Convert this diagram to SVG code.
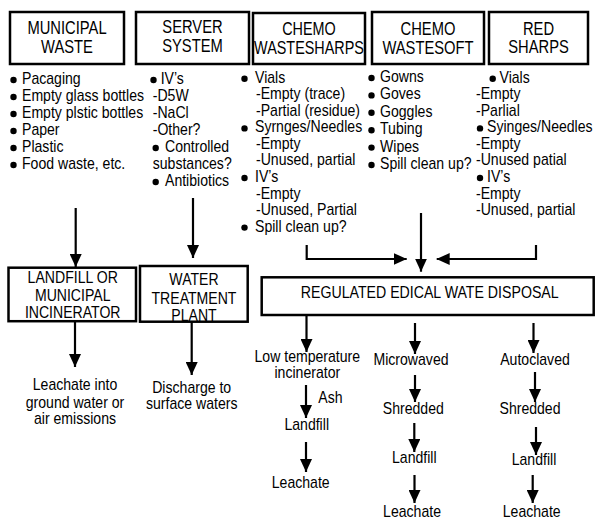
<svg xmlns="http://www.w3.org/2000/svg" width="596" height="520" viewBox="0 0 596 520">
<style>
text{font-family:"Liberation Sans",Arial,sans-serif;fill:#000}
.h{font-size:18px;text-anchor:middle}
.b{font-size:16px}
.c{font-size:16px;text-anchor:middle}
.box{fill:#fff;stroke:#000;stroke-width:2.5}
.ln{fill:none;stroke:#000;stroke-width:2.2}
.dot{fill:#000}
</style>
<defs>
<marker id="ah" viewBox="0 0 13 12" refX="13" refY="6" markerWidth="13" markerHeight="12" markerUnits="userSpaceOnUse" orient="auto">
<path d="M0,0 L13,6 L0,12 z" fill="#000"/>
</marker>
</defs>
<rect width="596" height="520" fill="#fff"/>

<g id="connectors" class="ln" marker-end="url(#ah)">
<path d="M75.7,208 V267"/>
<path d="M193,198 V258"/>
<path d="M306.7,245 V259 H406.7"/>
<path d="M421,213 V271.7"/>
<path d="M536,245 V259 H436.7"/>
<path d="M75,321 V367"/>
<path d="M191.7,322 V375"/>
<path d="M306.5,315 V352"/>
<path d="M415,323 V354"/>
<path d="M533.5,323 V353"/>
<path d="M306,385 V418"/>
<path d="M415,375 V402"/>
<path d="M535,372 V402"/>
<path d="M414.3,423 V452"/>
<path d="M536,427 V455"/>
<path d="M306,442 V472"/>
<path d="M414.5,475 V503"/>
<path d="M532.7,475 V503"/>
</g>

<g id="municipal-waste">
<rect class="box" x="10" y="12" width="114" height="52"/>
<text class="h" transform="translate(67 34) scale(.82 1)">MUNICIPAL</text>
<text class="h" transform="translate(67 53) scale(.82 1)">WASTE</text>
<g class="dot"><circle cx="13.5" cy="80" r="3.2"/><circle cx="13.5" cy="97" r="3.2"/><circle cx="13.5" cy="114" r="3.2"/><circle cx="13.5" cy="131" r="3.2"/><circle cx="13.5" cy="148" r="3.2"/><circle cx="13.5" cy="165" r="3.2"/></g>
<text class="b" transform="translate(22 84) scale(.88 1)">Pacaging</text>
<text class="b" transform="translate(22 101) scale(.88 1)">Empty glass bottles</text>
<text class="b" transform="translate(22 118) scale(.88 1)">Empty plstic bottles</text>
<text class="b" transform="translate(22 135) scale(.88 1)">Paper</text>
<text class="b" transform="translate(22 152) scale(.88 1)">Plastic</text>
<text class="b" transform="translate(22 169) scale(.88 1)">Food waste, etc.</text>
</g>

<g id="server-system">
<rect class="box" x="136" y="12" width="113" height="52"/>
<text class="h" transform="translate(192.5 33) scale(.82 1)">SERVER</text>
<text class="h" transform="translate(192.5 52) scale(.82 1)">SYSTEM</text>
<g class="dot"><circle cx="153.5" cy="80" r="3.2"/><circle cx="155.7" cy="148" r="3.2"/><circle cx="155.7" cy="182" r="3.2"/></g>
<text class="b" transform="translate(160.7 84) scale(.88 1)">IV’s</text>
<text class="b" transform="translate(152.7 101) scale(.88 1)">-D5W</text>
<text class="b" transform="translate(152.7 118) scale(.88 1)">-NaCl</text>
<text class="b" transform="translate(152.7 135) scale(.88 1)">-Other?</text>
<text class="b" transform="translate(165 152) scale(.88 1)">Controlled</text>
<text class="b" transform="translate(152.7 169) scale(.88 1)">substances?</text>
<text class="b" transform="translate(165 186) scale(.88 1)">Antibiotics</text>
</g>

<g id="chemo-wastesharps">
<rect class="box" x="253" y="13" width="112" height="51"/>
<text class="h" transform="translate(309 35) scale(.8 1)">CHEMO</text>
<text class="h" transform="translate(309 54) scale(.8 1)">WASTESHARPS</text>
<g class="dot"><circle cx="244.5" cy="78.7" r="3.2"/><circle cx="244.5" cy="128.4" r="3.2"/><circle cx="244.5" cy="178" r="3.2"/><circle cx="244.5" cy="227.6" r="3.2"/></g>
<text class="b" transform="translate(255 82.7) scale(.88 1)">Vials</text>
<text class="b" transform="translate(256 99.25) scale(.88 1)">-Empty (trace)</text>
<text class="b" transform="translate(256 115.8) scale(.88 1)">-Partial (residue)</text>
<text class="b" transform="translate(255 132.35) scale(.88 1)">Syrnges/Needles</text>
<text class="b" transform="translate(256 148.9) scale(.88 1)">-Empty</text>
<text class="b" transform="translate(256 165.45) scale(.88 1)">-Unused, partial</text>
<text class="b" transform="translate(255 182) scale(.88 1)">IV’s</text>
<text class="b" transform="translate(256 198.55) scale(.88 1)">-Empty</text>
<text class="b" transform="translate(256 215.1) scale(.88 1)">-Unused, Partial</text>
<text class="b" transform="translate(255 231.65) scale(.88 1)">Spill clean up?</text>
</g>

<g id="chemo-wastesoft">
<rect class="box" x="372" y="12" width="112" height="52"/>
<text class="h" transform="translate(428 35) scale(.82 1)">CHEMO</text>
<text class="h" transform="translate(428 54) scale(.82 1)">WASTESOFT</text>
<g class="dot"><circle cx="371.5" cy="78" r="3.2"/><circle cx="371.5" cy="95.4" r="3.2"/><circle cx="371.5" cy="112.8" r="3.2"/><circle cx="371.5" cy="130.2" r="3.2"/><circle cx="371.5" cy="147.6" r="3.2"/><circle cx="371.5" cy="165" r="3.2"/></g>
<text class="b" transform="translate(380 82) scale(.88 1)">Gowns</text>
<text class="b" transform="translate(380 99.4) scale(.88 1)">Goves</text>
<text class="b" transform="translate(380 116.8) scale(.88 1)">Goggles</text>
<text class="b" transform="translate(380 134.2) scale(.88 1)">Tubing</text>
<text class="b" transform="translate(380 151.6) scale(.88 1)">Wipes</text>
<text class="b" transform="translate(380 169) scale(.88 1)">Spill clean up?</text>
</g>

<g id="red-sharps">
<rect class="box" x="489" y="12" width="99" height="52"/>
<text class="h" transform="translate(538.5 35) scale(.82 1)">RED</text>
<text class="h" transform="translate(538.5 53) scale(.82 1)">SHARPS</text>
<g class="dot"><circle cx="492.7" cy="78.7" r="3.2"/><circle cx="480" cy="128.4" r="3.2"/><circle cx="480" cy="178" r="3.2"/></g>
<text class="b" transform="translate(499.5 82.7) scale(.88 1)">Vials</text>
<text class="b" transform="translate(476 99.25) scale(.88 1)">-Empty</text>
<text class="b" transform="translate(476 115.8) scale(.88 1)">-Parlial</text>
<text class="b" transform="translate(487 132.35) scale(.88 1)">Syinges/Needles</text>
<text class="b" transform="translate(476 148.9) scale(.88 1)">-Empty</text>
<text class="b" transform="translate(476 165.45) scale(.88 1)">-Unused patial</text>
<text class="b" transform="translate(487 182) scale(.88 1)">IV’s</text>
<text class="b" transform="translate(476 198.55) scale(.88 1)">-Empty</text>
<text class="b" transform="translate(476 215.1) scale(.88 1)">-Unused, partial</text>
</g>

<g id="landfill-incinerator">
<rect class="box" x="8.5" y="267.7" width="127.5" height="53.5"/>
<text class="c" transform="translate(72.7 283.3) scale(.88 1)">LANDFILL OR</text>
<text class="c" transform="translate(72.7 301) scale(.88 1)">MUNICIPAL</text>
<text class="c" transform="translate(72.7 318.3) scale(.88 1)">INCINERATOR</text>
</g>

<g id="water-treatment">
<rect class="box" x="140" y="266" width="107.7" height="55.7"/>
<text class="c" transform="translate(194 285) scale(.88 1)">WATER</text>
<text class="c" transform="translate(194 304) scale(.88 1)">TREATMENT</text>
<text class="c" transform="translate(194 320.7) scale(.88 1)">PLANT</text>
</g>

<g id="leachate-ground">
<text class="c" transform="translate(75 390) scale(.88 1)">Leachate into</text>
<text class="c" transform="translate(75 407.7) scale(.88 1)">ground water or</text>
<text class="c" transform="translate(75 424.3) scale(.88 1)">air emissions</text>
</g>

<g id="discharge">
<text class="c" transform="translate(191.7 392.7) scale(.88 1)">Discharge to</text>
<text class="c" transform="translate(191.7 409.3) scale(.88 1)">surface waters</text>
</g>

<g id="regulated-disposal">
<rect class="box" x="261.7" y="277.3" width="332" height="37.7"/>
<text class="c" transform="translate(429.7 298.3) scale(.885 1)">REGULATED EDICAL WATE DISPOSAL</text>
</g>

<g id="low-temp-incinerator">
<text class="c" transform="translate(307.3 361.7) scale(.88 1)">Low temperature</text>
<text class="c" transform="translate(307.3 378.3) scale(.88 1)">incinerator</text>
</g>
<g id="ash-label"><text class="b" transform="translate(318.3 403.3) scale(.88 1)">Ash</text></g>
<g id="landfill-1"><text class="c" transform="translate(306.7 430) scale(.88 1)">Landfill</text></g>
<g id="leachate-1"><text class="c" transform="translate(300.7 488.3) scale(.88 1)">Leachate</text></g>

<g id="microwaved"><text class="c" transform="translate(411 365) scale(.88 1)">Microwaved</text></g>
<g id="shredded-1"><text class="c" transform="translate(413.3 414) scale(.88 1)">Shredded</text></g>
<g id="landfill-2"><text class="c" transform="translate(414.3 463.3) scale(.88 1)">Landfill</text></g>
<g id="leachate-2"><text class="c" transform="translate(412 517.3) scale(.88 1)">Leachate</text></g>

<g id="autoclaved"><text class="c" transform="translate(535 365) scale(.88 1)">Autoclaved</text></g>
<g id="shredded-2"><text class="c" transform="translate(530 414) scale(.88 1)">Shredded</text></g>
<g id="landfill-3"><text class="c" transform="translate(534 465) scale(.88 1)">Landfill</text></g>
<g id="leachate-3"><text class="c" transform="translate(531.7 517.3) scale(.88 1)">Leachate</text></g>
</svg>
